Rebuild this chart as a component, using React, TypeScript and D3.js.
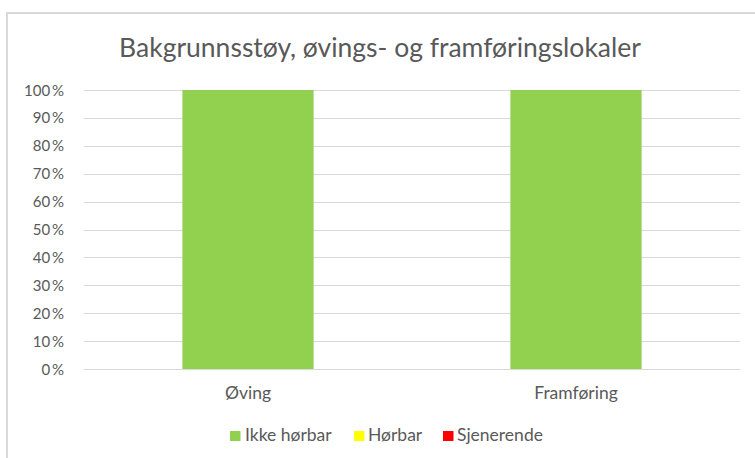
import React from "react";
import * as d3 from "d3";

const categories = ["Øving", "Framføring"];
const seriesNames = ["Ikke hørbar", "Hørbar", "Sjenerende"];
const ikkeHorbar = [1, 1];
const horbar = [0, 0];
const sjenerende = [0, 0];
const seriesColors = ["#92D050", "#FFFF00", "#FF0000"];
const yTicks = [0, 0.1, 0.2, 0.3, 0.4, 0.5, 0.6, 0.7, 0.8, 0.9, 1];
const title = "Bakgrunnsstøy, øvings- og framføringslokaler";

const W = 755;
const H = 458;
const font = "Lato, 'Open Sans', sans-serif";

export default function App() {
  const left = 84, right = 740, top = 90, bottom = 369;
  const x = d3.scaleBand().domain(categories).range([left, right]).paddingInner(0.6).paddingOuter(0.3);
  const y = d3.scaleLinear().domain([0, 1]).range([bottom, top]);
  const rows = categories.map((c, i) => ({ cat: c, s0: ikkeHorbar[i], s1: horbar[i], s2: sjenerende[i] }));
  const stack = d3.stack<any>().keys(["s0", "s1", "s2"]);
  const layers = stack(rows);
  const legendItems = [
    { name: seriesNames[0], sx: 230, tx: 245 },
    { name: seriesNames[1], sx: 354, tx: 368 },
    { name: seriesNames[2], sx: 443, tx: 457 },
  ];
  return (
    <svg width={W} height={H} style={{ position: "absolute", left: 0, top: 0 }}>
      <rect x={0} y={0} width={W} height={H} fill="#fff" />
      <rect x={7} y={13} width={760} height={460} fill="#fff" stroke="#d9d9d9" strokeWidth={2} />
      <text x={380} y={57} textAnchor="middle" fontFamily={font} fontSize={26.5} fill="#595959">{title}</text>
      {yTicks.map((t) => (
        <g key={t}>
          <line x1={left} x2={right} y1={Math.round(y(t)) + 0.5} y2={Math.round(y(t)) + 0.5} stroke="#d9d9d9" />
          <text x={64} y={y(t) + 5.5} textAnchor="end" fontFamily={font} fontSize={15} fill="#595959">
            {Math.round(t * 100)}{"\u2009"}%
          </text>
        </g>
      ))}
      {layers.map((layer, li) =>
        layer.map((d, i) => (
          <rect key={li + "-" + i} x={x(categories[i])} width={x.bandwidth()} y={y(d[1])} height={y(d[0]) - y(d[1])} fill={seriesColors[li]} />
        ))
      )}
      {categories.map((c) => (
        <text key={c} x={(x(c) as number) + x.bandwidth() / 2} y={399} textAnchor="middle" fontFamily={font} fontSize={17.5} fill="#595959">{c}</text>
      ))}
      {legendItems.map((l, i) => (
        <g key={l.name}>
          <rect x={l.sx} y={431} width={10.5} height={10} fill={seriesColors[i]} />
          <text x={l.tx} y={441} fontFamily={font} fontSize={17.5} fill="#595959">{l.name}</text>
        </g>
      ))}
    </svg>
  );
}
